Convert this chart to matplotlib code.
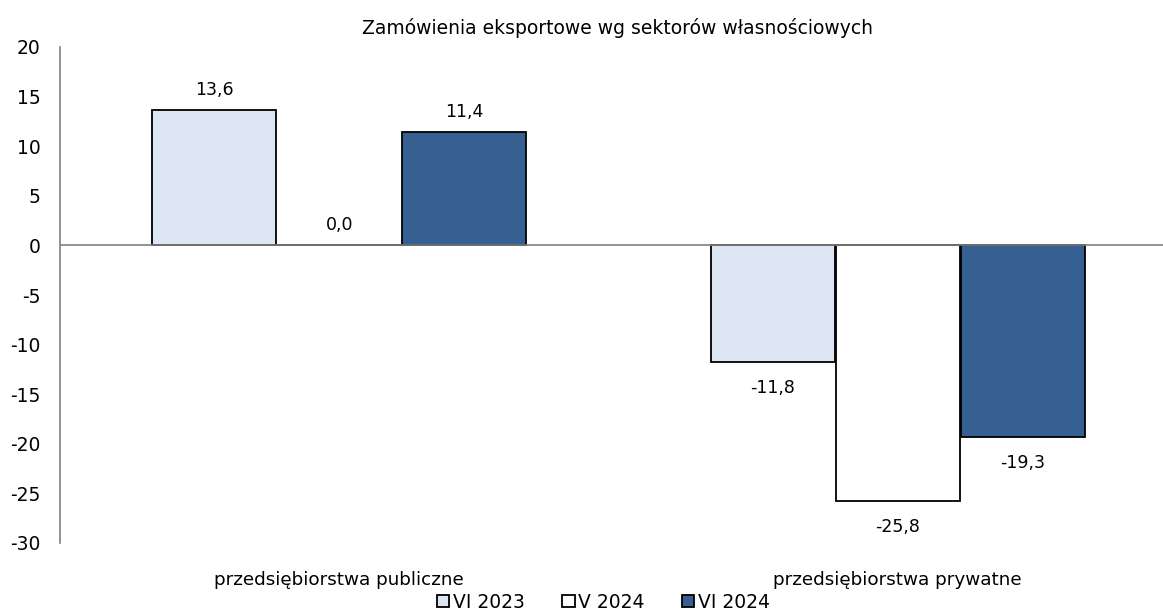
import numpy as np
import matplotlib.pyplot as plt

# data
categories = ['przedsiębiorstwa publiczne', 'przedsiębiorstwa prywatne']
series = ['VI 2023', 'V 2024', 'VI 2024']
vi_2023 = [13.6, -11.8]
v_2024 = [0.0, -25.8]
vi_2024 = [11.4, -19.3]
colors = ['#DCE6F2', '#FFFFFF', '#366092']

plt.rcParams['font.family'] = ['DejaVu Sans']
plt.rcParams['axes.unicode_minus'] = False

fig = plt.figure(figsize=(11.63, 6.15), dpi=100)
ax = fig.add_axes([60/1163, 1-543/615, 1-60/1163, (543-47)/615])

x = np.arange(len(categories))
w = 0.222
step = 0.224
for i, (vals, c, name) in enumerate(zip([vi_2023, v_2024, vi_2024], colors, series)):
    pos = x + (i-1)*step
    ax.bar(pos, vals, w, color=c, edgecolor='black', linewidth=1.3, label=name, zorder=2)
    for p, v in zip(pos, vals):
        lbl = f'{v:.1f}'.replace('.', ',')
        if v >= 0:
            ax.annotate(lbl, (p, v), xytext=(0, 8), textcoords='offset points',
                        ha='center', va='bottom', fontsize=12.5)
        else:
            ax.annotate(lbl, (p, v), xytext=(0, -12), textcoords='offset points',
                        ha='center', va='top', fontsize=12.5)

ax.set_xlim(-0.5, 1.475)
ax.set_ylim(-30, 20)
ax.set_yticks(np.arange(-30, 21, 5))
ax.tick_params(axis='y', length=0, labelsize=13.5, pad=14)
ax.set_xticks(x)
ax.set_xticklabels(categories, fontsize=13.2)
ax.tick_params(axis='x', length=0, pad=20)
ax.axhline(0, color='#808080', linewidth=1.2, zorder=3)
for s in ['top', 'right', 'bottom']:
    ax.spines[s].set_visible(False)
ax.spines['left'].set_color('#808080')
ax.spines['left'].set_linewidth(1.2)

fig.text(0.531, 1-28/615, 'Zamówienia eksportowe wg sektorów własnościowych',
         ha='center', va='center', fontsize=13.5)

fig.legend(loc='center', bbox_to_anchor=(0.519, 1-602/615), ncol=3, frameon=False,
           fontsize=13.5, handlelength=0.65, handleheight=0.65, handletextpad=0.2,
           columnspacing=2.0)

fig.savefig('out.png', dpi=100)
